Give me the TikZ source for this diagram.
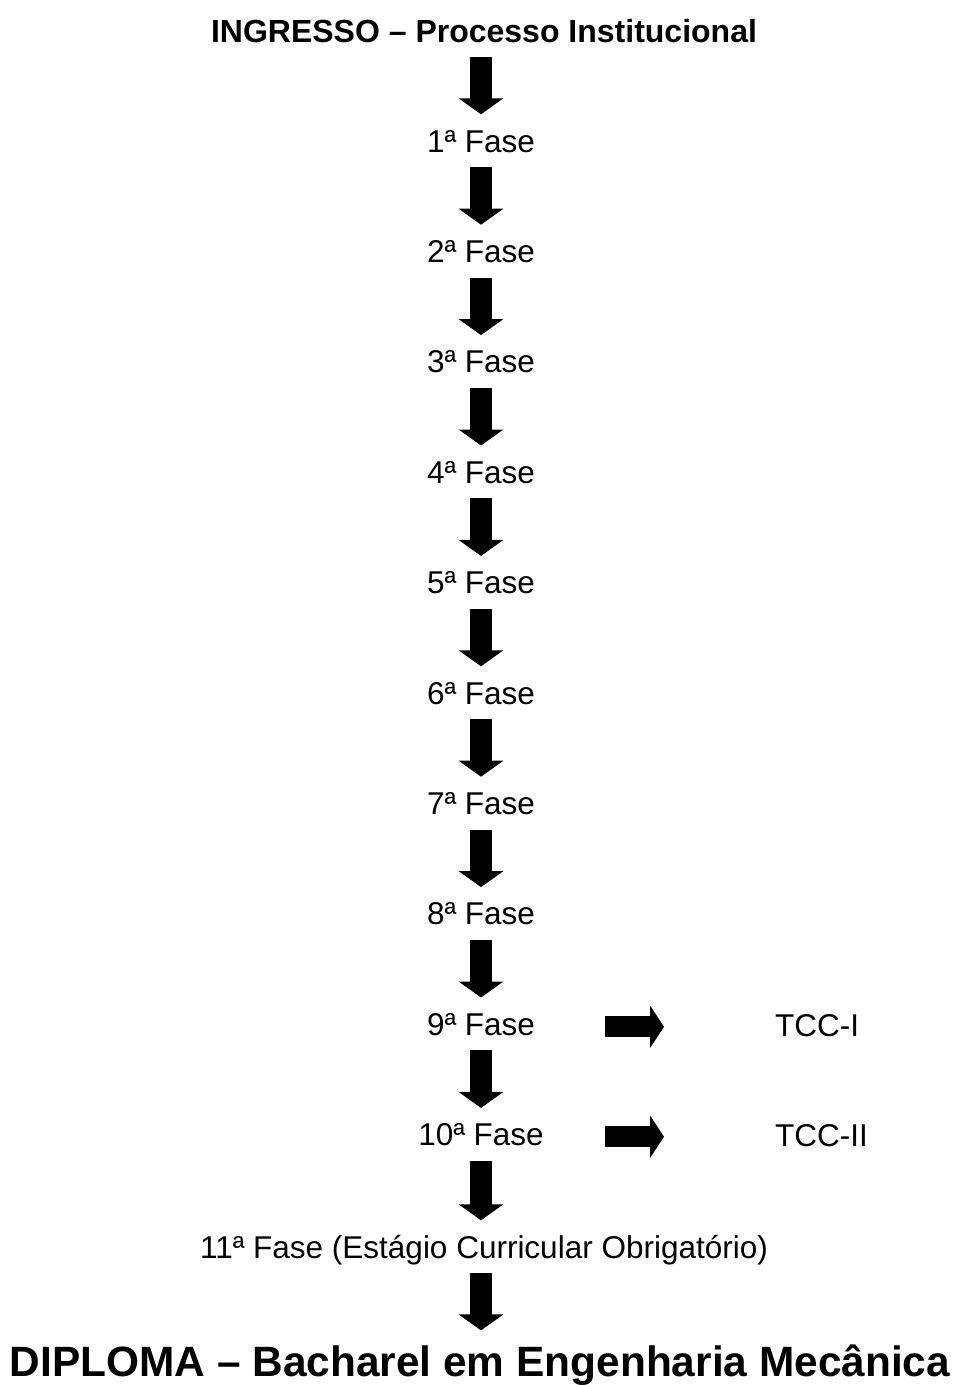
\documentclass[tikz,border=0pt]{standalone}
\usepackage{fontspec}
\setmainfont{Liberation Sans}
\usetikzlibrary{arrows.meta,positioning}
\tikzset{
  phase/.style={inner sep=0pt, anchor=base, font=\fontsize{31.5}{36}\selectfont, text height=22.5pt, text depth=0pt},
  headline/.style={inner sep=0pt, anchor=base, font=\fontsize{32}{38}\selectfont\bfseries, text height=23pt, text depth=0pt},
  finalline/.style={inner sep=0pt, anchor=base, font=\fontsize{42.4}{50}\selectfont\bfseries, text height=30.4pt, text depth=0pt},
  downarrow/.style={line width=22pt, -{Triangle[length=16pt,width=44pt]}, shorten <=15pt, shorten >=15pt},
  sidearrow/.style={line width=21pt, -{Triangle[length=14pt,width=42pt]}}
}
\begin{document}
\begin{tikzpicture}[x=1pt,y=-1pt]
  \fill[white] (0,0) rectangle (960,1385);
  \node[headline] (ingresso) at (484,42) {INGRESSO – Processo Institucional};
  \foreach \k in {1,...,10}{
    \node[phase] (f\k) at (481,{152+110.4*(\k-1)}) {{\k}ª Fase};
  }
  \node[phase] (f11) at (484,1258) {11ª Fase (Estágio Curricular Obrigatório)};
  \node[finalline] (diploma) at (480,1376) {DIPLOMA – Bacharel em Engenharia Mecânica};
  \node[phase, anchor=base west] (tcc1) at (775,1036) {TCC-I};
  \node[phase, anchor=base west] (tcc2) at (775,1146) {TCC-II};
  % vertical flow
  \draw[downarrow] (f1.north |- ingresso.south) -- (f1.north);
  \foreach \k/\n in {1/2,2/3,3/4,4/5,5/6,6/7,7/8,8/9,9/10}{
    \draw[downarrow] (f\k.south) -- (f\n.north);
  }
  \draw[downarrow] (f10.south) -- (f10.south |- f11.north);
  \draw[downarrow] (f11.south -| f10.south) -- (diploma.north -| f10.south);
  % TCC
  \draw[sidearrow] ([xshift=-170pt,yshift=-2pt]tcc1.west) -- ([xshift=-111pt,yshift=-2pt]tcc1.west);
  \draw[sidearrow] ([xshift=-170pt,yshift=-2pt]tcc2.west) -- ([xshift=-111pt,yshift=-2pt]tcc2.west);
\end{tikzpicture}
\end{document}
